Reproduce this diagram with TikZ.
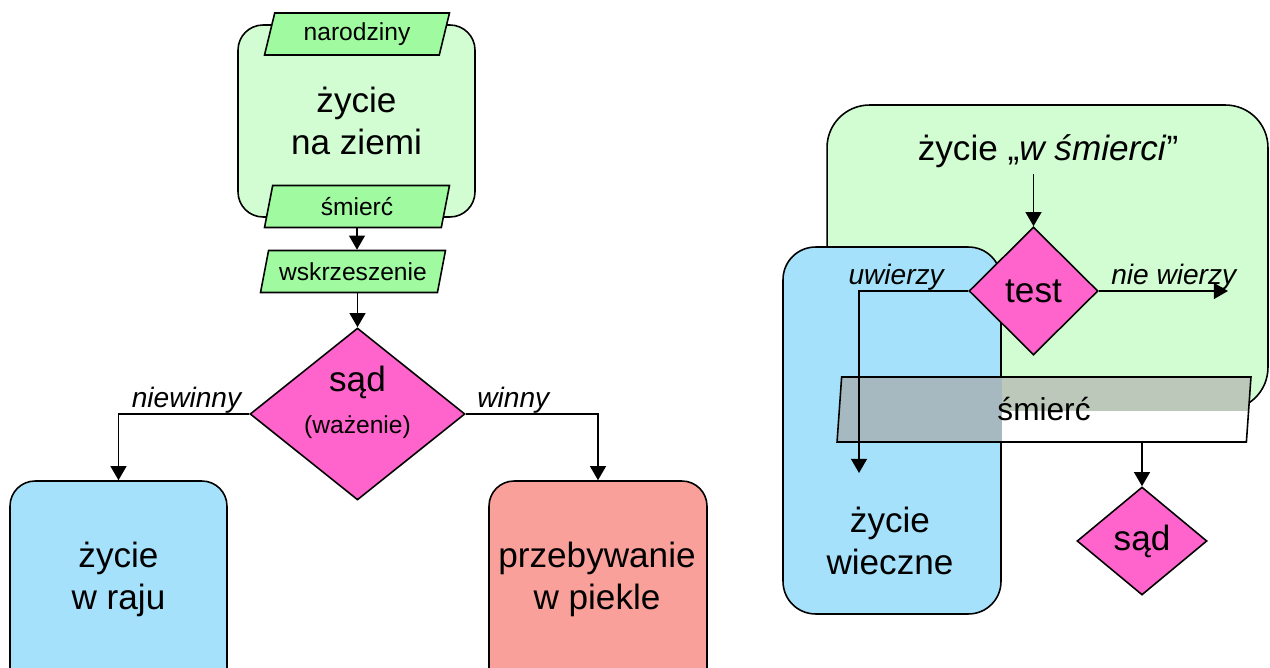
\documentclass[tikz,border=0pt]{standalone}
\usepackage{fontspec}
\setmainfont{Liberation Sans}
\usetikzlibrary{shapes.geometric,arrows.meta}
\definecolor{jasnaziel}{RGB}{210,252,210}
\definecolor{ziel}{RGB}{160,250,160}
\definecolor{roz}{RGB}{255,100,204}
\definecolor{nieb}{RGB}{165,225,250}
\definecolor{losos}{RGB}{250,160,155}
\definecolor{szaroziel}{RGB}{188,200,186}
\definecolor{szaronieb}{RGB}{166,184,192}
\newcommand{\duzy}{\fontsize{20}{24}\selectfont}
\newcommand{\sredni}{\fontsize{14}{17}\selectfont}
\newcommand{\opis}{\fontsize{16}{19}\selectfont\itshape}

\begin{document}
\begin{tikzpicture}[x=0.02cm,y=-0.02cm,line width=0.9pt,
    pole/.style={draw,rounded corners=0.5cm,inner sep=0pt},
    dane/.style={trapezium,trapezium left angle=66,trapezium right angle=114,
      trapezium stretches body,draw,fill=ziel,inner sep=0pt,
      minimum width=3.7cm,minimum height=0.84cm,font=\sredni},
    decyzja/.style={diamond,draw,fill=roz,inner sep=0pt,font=\duzy},
    napis/.style={align=center,font=\duzy},
    etykieta/.style={font=\opis,inner sep=0pt},
    strz/.style={-{Triangle[length=8pt,width=9pt]}}]

      \useasboundingbox (0,0) rectangle (1270,668);
      \clip (0,0) rectangle (1270,668);

      \node[pole,fill=jasnaziel,minimum width=4.74cm,minimum height=3.84cm,napis] (ziemia) at (356.5,121) {życie\\na ziemi};
      \node[dane] (narodziny) at (357,34) {narodziny};
      \node[dane] (smierc1) at (357,206.5) {śmierć};
      \node[dane] (wskrz) at (353,271.5) {wskrzeszenie};
      \node[decyzja,minimum width=4.3cm,minimum height=3.44cm] (sad1) at (357.5,414) {};
      \node[napis] (sad1txt) at (357.5,402) {sąd\\{\sredni(ważenie)}};
      \node[pole,fill=nieb,minimum width=4.34cm,minimum height=4.8cm] (raj) at (118.5,601) {};
      \node[napis] (rajtxt) at (118.5,579) {życie\\w raju};
      \node[pole,fill=losos,minimum width=4.36cm,minimum height=4.8cm] (pieklo) at (598,601) {};
      \node[napis] (pieklotxt) at (597,579) {przebywanie\\w piekle};

      \draw[strz] (smierc1.south) -- (smierc1.south |- wskrz.north);
      \draw[strz] (wskrz.south -| sad1.north) -- (sad1.north);
      \draw[strz] (sad1.west) -| node[etykieta,pos=.24,above]{niewinny} (raj.north);
      \draw[strz] (sad1.east) -| node[etykieta,pos=.18,above]{winny} (pieklo.north);

      \node[pole,rounded corners=0.85cm,fill=jasnaziel,minimum width=8.82cm,minimum height=6.1cm] (wsm) at (1047.5,257.5) {};
      \node[napis] (zyciewsm) at (1048,151) {życie „\textit{w śmierci}”};
      \node[pole,rounded corners=0.65cm,fill=nieb,minimum width=4.36cm,minimum height=7.34cm] (wiecz) at (892,430.5) {};
      \node[napis] (wiecztxt) at (890,541) {życie\\wieczne};
      \node[decyzja,minimum width=2.58cm,minimum height=2.56cm] (test) at (1033.5,291) {test};
      \node[trapezium,trapezium left angle=79,trapezium right angle=101,trapezium stretches body,
        draw,fill=white,inner sep=0pt,minimum width=8.28cm,minimum height=1.3cm,font=\fontsize{18}{21}\selectfont,
        path picture={\fill[szaroziel] (wsm.north west) rectangle (wsm.south east);
          \fill[szaronieb] (wiecz.north west) rectangle (wiecz.south east);}] (smierc2) at (1044,409.5) {śmierć};
      \node[decyzja,minimum width=2.6cm,minimum height=2.16cm] (sad2) at (1142,541) {sąd};
      \coordinate (uw) at (859,473);
      \coordinate (nw) at (1228,291);

      \draw[strz] (zyciewsm.south -| test.north) -- (test.north);
      \draw[strz] (test.west) -| node[etykieta,pos=.33,above]{uwierzy} (uw);
      \draw[strz] (test.east) -- node[etykieta,pos=.58,above]{nie wierzy} (nw);
      \draw[strz] (sad2.north |- smierc2.south) -- (sad2.north);
  \end{tikzpicture}
\end{document}
